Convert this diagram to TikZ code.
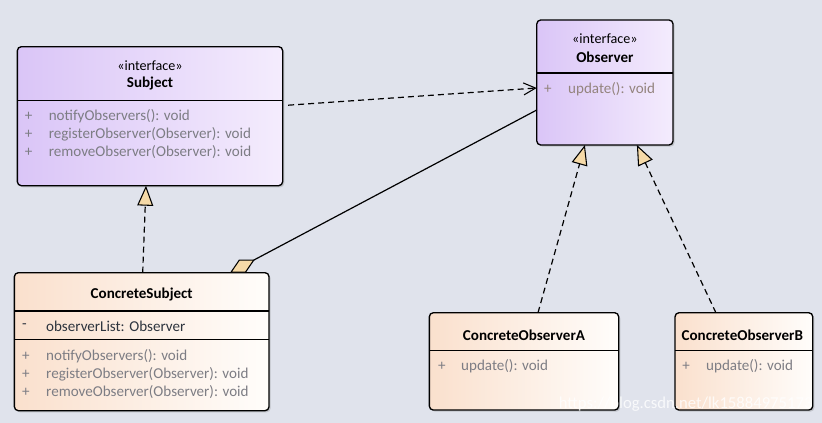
\documentclass[tikz,border=0pt]{standalone}
\usepackage{fontspec}
\setmainfont{Carlito}
\usetikzlibrary{calc,arrows.meta,shadows}

\definecolor{bgcol}{RGB}{224,227,236}
\definecolor{ifaceL}{RGB}{218,197,247}
\definecolor{ifaceR}{RGB}{244,236,253}
\definecolor{concL}{RGB}{250,224,205}
\definecolor{concR}{RGB}{255,253,251}
\definecolor{tanfill}{RGB}{246,218,168}
\definecolor{opgray}{RGB}{125,125,132}
\definecolor{opbrown}{RGB}{148,132,126}
\definecolor{attrcol}{RGB}{45,52,62}

\tikzset{every picture/.style={line width=0.75pt}}
\tikzset{
  classbox/.style={draw=black, line width=1pt, rounded corners=3pt, inner sep=0pt, outer sep=0pt,
    drop shadow={shadow xshift=1.2pt, shadow yshift=-1.2pt, opacity=0.25, fill=black!60}},
  ifacebox/.style={classbox, left color=ifaceL, right color=ifaceR},
  concbox/.style={classbox, left color=concL, right color=concR},
  divider/.style={line width=0.85pt},
  stereo/.style={inner sep=0pt, font=\fontsize{10.6}{12}\selectfont},
  title/.style={inner sep=0pt, font=\fontsize{11.3}{13}\selectfont\bfseries},
  member/.style={anchor=west, inner sep=0pt, text=opgray, font=\fontsize{11.3}{13}\selectfont},
  realize/.style={dash pattern=on 4.5pt off 3pt, line width=0.9pt, -{Triangle[length=15pt, width=12pt, fill=tanfill, line width=0.8pt]}},
  depend/.style={dash pattern=on 4.5pt off 3pt, line width=0.9pt, -{Straight Barb[length=9pt, width=9pt, line width=0.8pt]}},
  aggreg/.style={line width=0.9pt, {Diamond[length=21pt, width=11pt, fill=tanfill, line width=0.8pt]}-}
}

\begin{document}
\begin{tikzpicture}[x=0.75pt,y=0.75pt,yscale=-1,xscale=1]
\useasboundingbox (0,0) rectangle (822,423);
\fill[bgcol] (0,0) rectangle (822,423);

%Shape: Class boxes
\node[ifacebox, minimum width=199pt, minimum height=104.25pt] (subject) at (150,116.2) {};
\node[ifacebox, minimum width=102.2pt, minimum height=93.75pt] (observer) at (604.9,82.5) {};
\node[concbox, minimum width=191pt, minimum height=103.5pt] (concsub) at (141.7,341.7) {};
\node[concbox, minimum width=142pt, minimum height=73pt] (concA) at (524,361.4) {};
\node[concbox, minimum width=103.3pt, minimum height=73pt] (concB) at (743.9,361.4) {};

%Straight Lines: compartments
\draw[divider] ($(subject.north west)+(0,54)$) -- ($(subject.north east)+(0,54)$);
\draw[divider] ($(observer.north west)+(0,53)$) -- ($(observer.north east)+(0,53)$);
\draw[divider] ($(concsub.north west)+(0,38.3)$) -- ($(concsub.north east)+(0,38.3)$);
\draw[divider] ($(concsub.north west)+(0,66.6)$) -- ($(concsub.north east)+(0,66.6)$);
\draw[divider] ($(concA.north west)+(0,38)$) -- ($(concA.north east)+(0,38)$);
\draw[divider] ($(concB.north west)+(0,38)$) -- ($(concB.north east)+(0,38)$);

% Text Node: Subject
\node[stereo] (subject-st) at (150,66) {«interface»};
\node[title] (subject-nm) at (150,83.5) {Subject};
\node[member] (subject-p1) at (24.5,116.7) {+};
\node[member] (subject-m1) at (48.3,116.7) {notifyObservers(): void};
\node[member] (subject-p2) at (24.5,134.4) {+};
\node[member] (subject-m2) at (48.3,134.4) {registerObserver(Observer): void};
\node[member] (subject-p3) at (24.5,152.1) {+};
\node[member] (subject-m3) at (48.3,152.1) {removeObserver(Observer): void};

% Text Node: Observer
\node[stereo] (observer-st) at (604.9,39) {«interface»};
\node[title] (observer-nm) at (604.9,57.7) {Observer};
\node[member, text=opbrown] (observer-p1) at (543.5,89) {+};
\node[member, text=opbrown] (observer-m1) at (567.7,89) {update(): void};

% Text Node: ConcreteSubject
\node[title] (concsub-nm) at (141.7,294.5) {ConcreteSubject};
\node[member, text=attrcol] (concsub-a1) at (21.5,326) {-};
\node[member, text=attrcol] (concsub-t1) at (45.7,326) {observerList: Observer};
\node[member] (concsub-p1) at (21.5,356) {+};
\node[member] (concsub-m1) at (45.7,356) {notifyObservers(): void};
\node[member] (concsub-p2) at (21.5,374) {+};
\node[member] (concsub-m2) at (45.7,374) {registerObserver(Observer): void};
\node[member] (concsub-p3) at (21.5,392) {+};
\node[member] (concsub-m3) at (45.7,392) {removeObserver(Observer): void};

% Text Node: ConcreteObserverA
\node[title] (concA-nm) at (524,335) {ConcreteObserverA};
\node[member] (concA-p1) at (437.5,366.7) {+};
\node[member] (concA-m1) at (460.7,366.7) {update(): void};

% Text Node: ConcreteObserverB
\node[title] (concB-nm) at (742.3,335) {ConcreteObserverB};
\node[member] (concB-p1) at (681.8,366.7) {+};
\node[member] (concB-m1) at (705.7,366.7) {update(): void};

% Text Node: watermark
\node[anchor=east, inner sep=0pt, text=white, opacity=0.8, font=\fontsize{12.5}{14}\selectfont] (mark) at (813,404) {https://blog.csdn.net/lk15884975173};

%Connectors
\draw[depend] ($(subject.east)+(5.5,-11)$) -- ($(observer.west)+(0,5.5)$);
\draw[aggreg] ($(concsub.north east)+(-39,0)$) -- ($(observer.west)+(0,27.5)$);
\draw[realize] ($(concsub.north)+(1,0)$) -- ($(subject.south)+(-4,0)$);
\draw[realize] ($(concA.north)+(14,0)$) -- ($(observer.south)+(-20,0)$);
\draw[realize] ($(concB.north)+(-28,0)$) -- ($(observer.south)+(32,0)$);

\end{tikzpicture}
\end{document}
